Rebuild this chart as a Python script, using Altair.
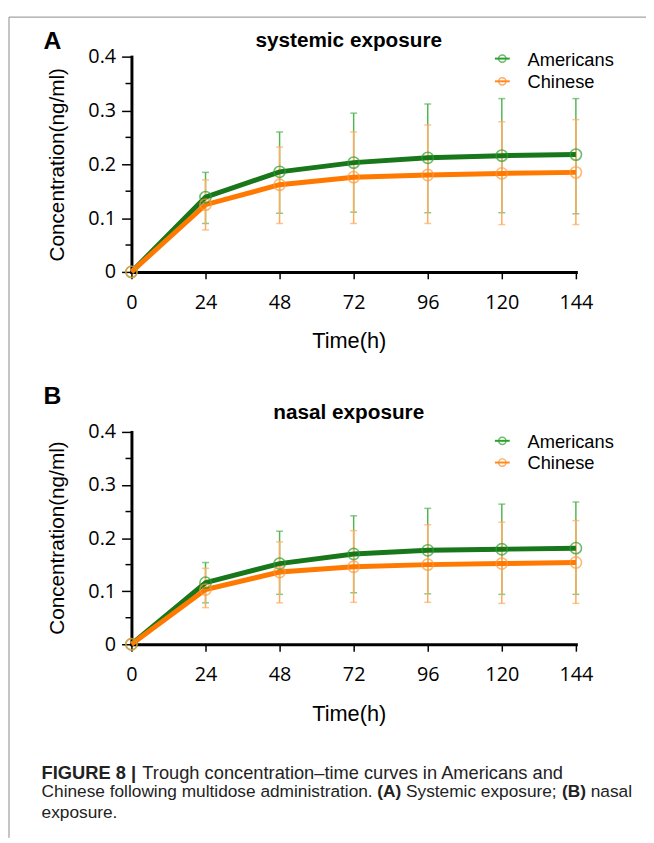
import altair as alt
import pandas as pd

# ---------------- data ----------------
time = [0, 24, 48, 72, 96, 120, 144]
groups = ["Americans", "Chinese"]

# Panel A: systemic exposure
a_am_mean = [0, 0.139, 0.186, 0.203, 0.212, 0.216, 0.218]
a_am_hi = [0, 0.185, 0.260, 0.295, 0.312, 0.322, 0.322]
a_am_lo = [0, 0.090, 0.109, 0.111, 0.110, 0.110, 0.108]
a_cn_mean = [0, 0.125, 0.162, 0.176, 0.180, 0.183, 0.185]
a_cn_hi = [0, 0.171, 0.232, 0.260, 0.273, 0.279, 0.283]
a_cn_lo = [0, 0.078, 0.090, 0.090, 0.090, 0.088, 0.088]

# Panel B: nasal exposure
b_am_mean = [0, 0.116, 0.152, 0.170, 0.177, 0.179, 0.181]
b_am_hi = [0, 0.154, 0.213, 0.242, 0.256, 0.264, 0.268]
b_am_lo = [0, 0.078, 0.094, 0.097, 0.095, 0.094, 0.094]
b_cn_mean = [0, 0.103, 0.136, 0.146, 0.150, 0.152, 0.154]
b_cn_hi = [0, 0.143, 0.193, 0.214, 0.225, 0.230, 0.233]
b_cn_lo = [0, 0.069, 0.078, 0.079, 0.079, 0.077, 0.077]

y_ticks = [0, 0.1, 0.2, 0.3, 0.4]
y_minor = [0.05, 0.15, 0.25, 0.35]
x_ticks = [0, 24, 48, 72, 96, 120, 144]

panel_titles = ["systemic exposure", "nasal exposure"]
panel_letters = ["A", "B"]
x_title = "Time(h)"
y_title = "Concentration(ng/ml)"

# caption segments: (text, weight, x, font size)
caption = [
    [("FIGURE 8 |", "bold", 34, 18.5), ("Trough concentration\u2013time curves in Americans and", "normal", 136, 18.5)],
    [("Chinese following multidose administration.", "normal", 34, 17.5), ("(A)", "bold", 374, 17.5),
     ("Systemic exposure;", "normal", 403, 17.5), ("(B)", "bold", 561, 17.5), ("nasal", "normal", 590, 17.5)],
    [("exposure.", "normal", 34, 17.5)],
]

# ---------------- style ----------------
W, H = 646, 835
LINE_COL = {"Americans": "#17771a", "Chinese": "#ff7800"}
PT_COL = {"Americans": "#2e9e2e", "Chinese": "#ff9a3c"}
ERR_COL = {"Americans": "#55b455", "Chinese": "#ffab5c"}
LEG_COL = {"Americans": "#2ca02c", "Chinese": "#ff8a20"}
TICK_FONT = "Open Sans"
TEXT_FONT = "Liberation Sans"


def make_df(am_m, am_h, am_l, cn_m, cn_h, cn_l):
    rows = []
    for g, m, h, l in [("Americans", am_m, am_h, am_l), ("Chinese", cn_m, cn_h, cn_l)]:
        for t, mv, hv, lv in zip(time, m, h, l):
            rows.append({"time": t, "group": g, "mean": mv, "hi": hv, "lo": lv})
    return pd.DataFrame(rows)


def panel(df, y_range, x_off, title_y_center, legend_rows):
    xaxis = alt.Axis(orient="bottom", offset=x_off, values=x_ticks, title=x_title,
                     titleX=345, titleY=70, titleBaseline="middle", titleAlign="center",
                     titleFont=TEXT_FONT, titleFontSize=22, titleFontWeight="normal", titleColor="black",
                     labelFont=TICK_FONT, labelFontSize=20, labelColor="black", labelPadding=14,
                     labelFlush=False, labelOverlap=False,
                     domainColor="black", domainWidth=3, domainCap="square",
                     tickColor="black", tickWidth=1.5, tickSize=7, grid=False)
    yaxis = alt.Axis(orient="left", offset=-125, values=y_ticks, format=".1~f", title=y_title,
                     titleX=-75, titleY=title_y_center, titleAngle=270, titleBaseline="middle",
                     titleAlign="center",
                     titleFont=TEXT_FONT, titleFontSize=21, titleFontWeight="normal", titleColor="black",
                     labelFont=TICK_FONT, labelFontSize=20, labelColor="black", labelPadding=6,
                     labelFlush=False, labelOverlap=False,
                     domainColor="black", domainWidth=3, domainCap="square",
                     tickColor="black", tickWidth=1.5, tickSize=10, grid=False)
    xs = alt.Scale(domain=[0, 144], range=[125, 575], nice=False, zero=False)
    ys = alt.Scale(domain=[0, 0.4], range=y_range, nice=False, zero=False)
    X = alt.X("time:Q", scale=xs, axis=xaxis)
    base = alt.Chart(df)
    err_df = df[df["time"] > 0]
    layers = []
    for g in groups:
        eb = alt.Chart(err_df).transform_filter(alt.datum.group == g)
        layers.append(eb.mark_rule(strokeWidth=1.5, color=ERR_COL[g]).encode(
            x=X, y=alt.Y("lo:Q", scale=ys, axis=yaxis), y2="hi:Q"))
        for f in ["hi", "lo"]:
            layers.append(eb.mark_tick(orient="horizontal", size=7, thickness=1.5, color=ERR_COL[g]).encode(
                x=X, y=alt.Y(f + ":Q", scale=ys, axis=yaxis)))
    for g in groups:
        layers.append(base.transform_filter(alt.datum.group == g).mark_line(
            strokeWidth=5, color=LINE_COL[g]).encode(x=X, y=alt.Y("mean:Q", scale=ys, axis=yaxis)))
    for g in groups:
        layers.append(base.transform_filter(alt.datum.group == g).mark_point(
            shape="circle", filled=False, size=130, strokeWidth=1.6, color=PT_COL[g]).encode(
            x=X, y=alt.Y("mean:Q", scale=ys, axis=yaxis)))
    # minor y ticks
    minor_df = pd.DataFrame({"v": y_minor})
    layers.append(alt.Chart(minor_df).mark_rule(color="black", strokeWidth=1.5).encode(
        x=alt.value(119), x2=alt.value(125), y=alt.Y("v:Q", scale=ys, axis=yaxis)))
    # legend
    one = pd.DataFrame({"a": [0]})
    for g, ly in zip(groups, legend_rows):
        c = alt.Chart(one)
        layers.append(c.mark_rule(strokeWidth=2, color=LEG_COL[g]).encode(
            x=alt.value(493), x2=alt.value(508), y=alt.value(ly)))
        layers.append(c.mark_point(shape="circle", filled=False, size=55, strokeWidth=1.5,
                                   color=LEG_COL[g]).encode(x=alt.value(500.5), y=alt.value(ly)))
        layers.append(c.mark_text(align="left", baseline="middle", font=TEXT_FONT, fontSize=18.5,
                                  color="black").encode(x=alt.value(526), y=alt.value(ly + 1),
                                                        text=alt.value(g)))
    return alt.layer(*layers)


dfA = make_df(a_am_mean, a_am_hi, a_am_lo, a_cn_mean, a_cn_hi, a_cn_lo)
dfB = make_df(b_am_mean, b_am_hi, b_am_lo, b_cn_mean, b_cn_hi, b_cn_lo)

panelA = panel(dfA, [262, 44], -(H - 262), 153, [46, 69])
panelB = panel(dfB, [639, 424], -(H - 639), 531, [433, 455])

# decorations: frame, letters, titles, caption
one = pd.DataFrame({"a": [0]})
deco = [
    alt.Chart(one).mark_rule(color="#8a8a8a", strokeWidth=1).encode(
        x=alt.value(1), y=alt.value(4), y2=alt.value(H)),
    alt.Chart(one).mark_rule(color="#8a8a8a", strokeWidth=1).encode(
        x=alt.value(1), x2=alt.value(W), y=alt.value(4)),
]
for letter, ly in zip(panel_letters, [28, 388]):
    deco.append(alt.Chart(one).mark_text(align="center", baseline="middle", font=TEXT_FONT,
                                         fontSize=25, fontWeight="bold", color="black").encode(
        x=alt.value(45), y=alt.value(ly), text=alt.value(letter)))
for t, ty in zip(panel_titles, [28, 405]):
    deco.append(alt.Chart(one).mark_text(align="center", baseline="middle", font=TEXT_FONT,
                                         fontSize=21, fontWeight="bold", color="black").encode(
        x=alt.value(345), y=alt.value(ty), text=alt.value(t)))
for line, cy in zip(caption, [769, 789, 810]):
    for txt, wt, cx, fs in line:
        deco.append(alt.Chart(one).mark_text(align="left", baseline="middle", font=TEXT_FONT,
                                             fontSize=fs, fontWeight=wt, color="#222222").encode(
            x=alt.value(cx), y=alt.value(cy), text=alt.value(txt)))

chart = alt.layer(panelA, panelB, *deco).resolve_scale(
    x="independent", y="independent"
).properties(
    width=W, height=H, autosize=alt.AutoSizeParams(type="none"), padding=0
).configure_view(strokeWidth=0)

chart.save("out.html", embed_options={"renderer": "svg", "actions": False})
